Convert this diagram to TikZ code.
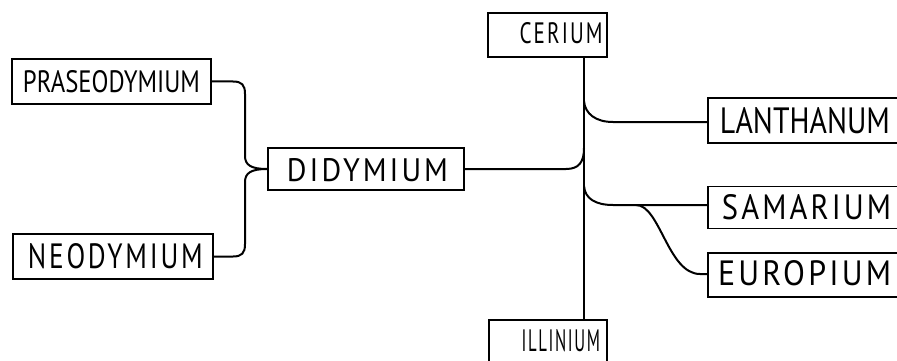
\documentclass[tikz,border=0pt]{standalone}
\usepackage{fontspec}
\setmainfont{PT Sans}
\newfontfamily\wide[LetterSpace=10]{PT Sans}
\usepackage{graphicx}
% letter-spaced word with the trailing space removed
\newcommand{\wideword}[1]{{\wide #1\kern-0.10em}}
\newcommand{\snugword}[1]{{#1}}
\begin{document}
\begin{tikzpicture}[x=1pt,y=-1pt,
  elem/.style={draw, line width=1.5pt, inner sep=0pt},
  word/.style={inner sep=0pt, anchor=center},
  link/.style={line width=2pt, line cap=round, line join=round}]
% canvas
\useasboundingbox (0,0) rectangle (897,361);
% element boxes (empty rectangles; the lettering is set separately)
\node[elem, minimum width=199pt, minimum height=45pt] (prase) at (111.5,81.5) {};
\node[elem, minimum width=200pt, minimum height=45pt] (neo)   at (113,256.5) {};
\node[elem, minimum width=196pt, minimum height=42pt] (didy)  at (366,169) {};
\node[elem, minimum width=119pt, minimum height=44pt] (cer)   at (547.5,35) {};
\node[elem, minimum width=118pt, minimum height=46pt] (ill)   at (548,343) {};
\node[elem, minimum width=197pt, minimum height=45pt] (lan)   at (806.5,120.5) {};
\node[elem, minimum width=197pt, minimum height=42pt] (sam)   at (806.5,207.5) {};
\node[elem, minimum width=197pt, minimum height=44pt] (eur)   at (806.5,275) {};
% lettering
\node[word] (prase-t) at (111.5,82) {\resizebox{177pt}{22pt}{\snugword{PRASEODYMIUM}}};
\node[word] (neo-t)   at (114,256) {\resizebox{172pt}{25pt}{\wideword{NEODYMIUM}}};
\node[word] (didy-t)  at (366,170) {\resizebox{158pt}{23pt}{\wideword{DIDYMIUM}}};
\node[word] (cer-t)   at (560,33) {\resizebox{81pt}{21pt}{\wideword{CERIUM}}};
\node[word] (ill-t)   at (560,341) {\resizebox{77pt}{22pt}{\wideword{ILLINIUM}}};
\node[word] (lan-t)   at (805,121) {\resizebox{170pt}{26pt}{\snugword{LANTHANUM}}};
\node[word] (sam-t)   at (805,207) {\resizebox{166pt}{25pt}{\wideword{SAMARIUM}}};
\node[word] (eur-t)   at (803,273) {\resizebox{170pt}{25pt}{\wideword{EUROPIUM}}};
% trunk position
\coordinate (T) at (584,0);
% main vertical stem from cerium to illinium
\draw[link] (cer.south -| T) -- (ill.north -| T);
% didymium joins the stem
\draw[link] (didy.east) -- (566,169) .. controls (579,169) and (584,162) .. (584,148);
% lanthanum branch
\draw[link] (584,101) .. controls (585,114) and (596,122) .. (613,122) -- (lan.west |- 0,122);
% samarium / europium branch
\draw[link] (584,186) .. controls (585,199) and (596,205) .. (613,205) -- (sam.west |- 0,205);
\draw[link] (636,205) .. controls (660,205) and (668,274) .. (700,274) -- (eur.west |- 0,274);
% brace joining praseodymium and neodymium into didymium
\draw[link] (prase.east) -- (233,81.5) .. controls (242,81.5) and (245,85) .. (245,94)
  -- (245,156) .. controls (245,165) and (251,169) .. (didy.west);
\draw[link] (neo.east) -- (233,256.5) .. controls (242,256.5) and (245,253) .. (245,244)
  -- (245,182) .. controls (245,173) and (251,169) .. (didy.west);
\end{tikzpicture}
\end{document}
